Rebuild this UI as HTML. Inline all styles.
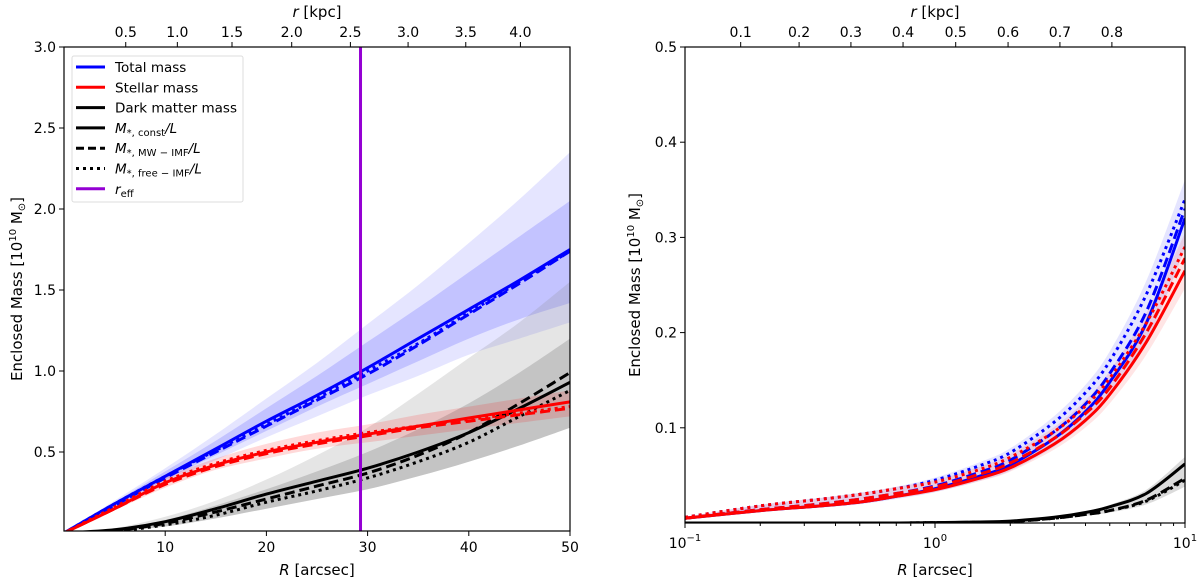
<!DOCTYPE html>
<html><head><meta charset="utf-8"><style>
body{margin:0;background:#fff;font-family:"Liberation Sans","DejaVu Sans",sans-serif}
svg text{font-family:"DejaVu Sans","Liberation Sans",sans-serif;fill:#000}
</style></head><body>
<svg id="c" width="1200" height="579" xmlns="http://www.w3.org/2000/svg"></svg>
<script>
// ---- Left panel data (R arcsec, mass 1e10 Msun)
const lR=[0,5,10,15,20,25,30,35,40,45,50];
const lTot=[0,0.18,0.35,0.52,0.69,0.85,1.02,1.2,1.38,1.56,1.75];
const lTotDash=[0,0.17,0.34,0.5,0.66,0.82,0.98,1.16,1.35,1.54,1.74];
const lTotDot=[0,0.18,0.35,0.51,0.67,0.83,1.0,1.17,1.36,1.55,1.74];
const lTotLo=[0,0.16,0.31,0.45,0.59,0.72,0.85,0.97,1.1,1.2,1.3];
const lTotHi=[0,0.2,0.4,0.61,0.83,1.05,1.29,1.53,1.79,2.06,2.35];
const lTotLo2=[0,0.17,0.33,0.48,0.63,0.78,0.92,1.06,1.2,1.32,1.42];
const lTotHi2=[0,0.19,0.38,0.57,0.77,0.97,1.18,1.39,1.61,1.83,2.05];
const lSt=[0,0.15,0.31,0.42,0.5,0.56,0.61,0.66,0.71,0.76,0.81];
const lStDash=[0,0.15,0.3,0.41,0.49,0.55,0.6,0.65,0.69,0.73,0.77];
const lStDot=[0,0.16,0.32,0.43,0.51,0.57,0.62,0.66,0.7,0.74,0.78];
const lStLo=[0,0.14,0.28,0.39,0.46,0.52,0.56,0.6,0.64,0.68,0.72];
const lStHi=[0,0.17,0.34,0.46,0.55,0.62,0.67,0.73,0.78,0.83,0.88];
const lDm=[0,0.02,0.07,0.15,0.24,0.32,0.4,0.5,0.62,0.77,0.93];
const lDmDash=[0,0.015,0.06,0.13,0.21,0.29,0.37,0.48,0.62,0.8,0.99];
const lDmDot=[0,0.012,0.05,0.11,0.19,0.26,0.34,0.44,0.56,0.72,0.88];
const lDmLo=[0,0.01,0.04,0.09,0.15,0.21,0.27,0.35,0.44,0.54,0.65];
const lDmHi=[0,0.03,0.1,0.2,0.33,0.48,0.65,0.86,1.08,1.3,1.55];
const lDmHi2=[0,0.025,0.08,0.17,0.27,0.38,0.5,0.64,0.8,0.99,1.2];
const reff=29.3;
const lXTicks=[10,20,30,40,50];
const lYTicks=[0.5,1.0,1.5,2.0,2.5,3.0];
const lTopLabels=["0.5","1.0","1.5","2.0","2.5","3.0","3.5","4.0"];
const lTopAt=[6.1,11.2,16.6,22.5,28.3,34.0,39.7,45.1];
// ---- Right panel data (log R)
const rR=[0.1,0.2,0.35,0.5,0.7,1,1.5,2,3,4,5,7,10];
const rSt=[0.005,0.013,0.018,0.022,0.028,0.035,0.047,0.058,0.083,0.108,0.135,0.19,0.265];
const rStDash=[0.005,0.014,0.02,0.025,0.031,0.038,0.051,0.063,0.089,0.115,0.142,0.2,0.278];
const rStDot=[0.006,0.018,0.025,0.03,0.036,0.043,0.056,0.069,0.096,0.123,0.152,0.21,0.29];
const rTot=[0.005,0.013,0.018,0.022,0.028,0.036,0.049,0.061,0.089,0.117,0.148,0.21,0.32];
const rTotDash=[0.005,0.014,0.02,0.025,0.031,0.039,0.053,0.066,0.096,0.125,0.157,0.222,0.33];
const rTotDot=[0.006,0.018,0.025,0.03,0.036,0.045,0.06,0.074,0.106,0.137,0.17,0.24,0.34];
const rDm=[0,0,0,0,0,0.0004,0.001,0.002,0.006,0.011,0.017,0.031,0.062];
const rDmDash=[0,0,0,0,0,0.0003,0.0008,0.0015,0.005,0.009,0.013,0.024,0.047];
const rDmDot=[0,0,0,0,0,0.0003,0.0008,0.0015,0.005,0.009,0.013,0.023,0.045];
const rXTicks=[0.1,1,10];
const rXLabels=["-1","0","1"];
const rYTicks=[0.1,0.2,0.3,0.4,0.5];
const rTopLabels=["0.1","0.2","0.3","0.4","0.5","0.6","0.7","0.8"];
const rTopAt=[0.167,0.286,0.461,0.745,1.21,1.96,3.16,5.1];

const NS="http://www.w3.org/2000/svg";
const svg=document.getElementById('c');
function mk(tag,attrs,parent){const e=document.createElementNS(NS,tag);for(const k in attrs)e.setAttribute(k,attrs[k]);(parent||svg).appendChild(e);return e;}
const L={x0:64,x1:570,y0:531,y1:47};
const lx=v=>L.x0+(v-0)/50*(L.x1-L.x0);
const ly=v=>533-v/0.5*81;
const Rr={x0:685,x1:1185,y0:523,y1:47};
const rx=v=>Rr.x0+(Math.log10(v)+1)/2*(Rr.x1-Rr.x0);
const ry=v=>Rr.y0-v/0.5*(Rr.y0-Rr.y1);

function P(xs,ys,fx,fy){return xs.map((x,i)=>[fx(x),fy(ys[i])]);}
function smooth(p,start){let d=(start?start:'M')+p[0][0].toFixed(1)+','+p[0][1].toFixed(1);
 for(let i=0;i<p.length-1;i++){const p0=p[Math.max(i-1,0)],p1=p[i],p2=p[i+1],p3=p[Math.min(i+2,p.length-1)];
  const c1=[p1[0]+(p2[0]-p0[0])/6,p1[1]+(p2[1]-p0[1])/6],c2=[p2[0]-(p3[0]-p1[0])/6,p2[1]-(p3[1]-p1[1])/6];
  d+=' C'+c1.map(v=>v.toFixed(1))+' '+c2.map(v=>v.toFixed(1))+' '+p2[0].toFixed(1)+','+p2[1].toFixed(1);}
 return d;}
function line(xs,ys,fx,fy,color,dash,name,g){
  const e=mk('path',{d:smooth(P(xs,ys,fx,fy)),fill:'none',stroke:color,'stroke-width':3,'stroke-dasharray':dash||'none','stroke-linejoin':'round'},g);
  
  
}
function band(xs,lo,hi,fx,fy,color,op,name,g){
  const top=P(xs,hi,fx,fy), bot=P(xs,lo,fx,fy).reverse();
  const d=smooth(top)+' '+smooth(bot,'L')+' Z';
  const e=mk('path',{d:d,fill:color,'fill-opacity':op,stroke:'none'},g);
  
  
}
function clip(id,b){const d=mk('clipPath',{id:id});mk('rect',{x:b.x0,y:b.y1,width:b.x1-b.x0,height:b.y0-b.y1},d);}
clip('cl',L);clip('cr',Rr);

const gl=mk('g',{'clip-path':'url(#cl)'});


band(lR,lTotLo,lTotHi,lx,ly,'#0000ff',0.1,'total-band-outer',gl);
band(lR,lTotLo2,lTotHi2,lx,ly,'#0000ff',0.15,'total-band-inner',gl);
band(lR,lDmLo,lDmHi,lx,ly,'#888',0.22,'dm-band-outer',gl);
band(lR,lDmLo,lDmHi2,lx,ly,'#777',0.3,'dm-band-inner',gl);
band(lR,lStLo,lStHi,lx,ly,'#ff0000',0.15,'stellar-band',gl);
line(lR,lDm,lx,ly,'#000','','dm-const',gl);
line(lR,lDmDash,lx,ly,'#000','10,5','dm-mw-imf',gl);
line(lR,lDmDot,lx,ly,'#000','3,4','dm-free-imf',gl);
line(lR,lTot,lx,ly,'#00f','','total-const',gl);
line(lR,lTotDash,lx,ly,'#00f','10,5','total-mw-imf',gl);
line(lR,lTotDot,lx,ly,'#00f','3,4','total-free-imf',gl);
line(lR,lSt,lx,ly,'#f00','','stellar-const',gl);
line(lR,lStDash,lx,ly,'#f00','10,5','stellar-mw-imf',gl);
line(lR,lStDot,lx,ly,'#f00','3,4','stellar-free-imf',gl);
const re=mk('line',{x1:lx(reff),x2:lx(reff),y1:L.y1,y2:L.y0,stroke:'#9400d3','stroke-width':3});



const gr=mk('g',{'clip-path':'url(#cr)'});


band(rR,rTot.map(v=>v*0.9),rTotDot.map(v=>v*1.06),rx,ry,'#0000ff',0.1,'total-band-right',gr);
band(rR,rSt.map(v=>v*0.93),rStDot.map(v=>v*1.05),rx,ry,'#ff0000',0.1,'stellar-band-right',gr);
band(rR,rDmDot.map(v=>v*0.85),rDm.map(v=>v*1.12),rx,ry,'#888',0.3,'dm-band-right',gr);
line(rR,rDm,rx,ry,'#000','','dm-const-right',gr);
line(rR,rDmDash,rx,ry,'#000','10,5','dm-mw-right',gr);
line(rR,rDmDot,rx,ry,'#000','3,4','dm-free-right',gr);
line(rR,rTot,rx,ry,'#00f','','total-const-right',gr);
line(rR,rTotDash,rx,ry,'#00f','10,5','total-mw-right',gr);
line(rR,rTotDot,rx,ry,'#00f','3,4','total-free-right',gr);
line(rR,rSt,rx,ry,'#f00','','stellar-const-right',gr);
line(rR,rStDash,rx,ry,'#f00','10,5','stellar-mw-right',gr);
line(rR,rStDot,rx,ry,'#f00','3,4','stellar-free-right',gr);

function frame(b,name){const e=mk('rect',{x:b.x0,y:b.y1,width:b.x1-b.x0,height:b.y0-b.y1,fill:'none',stroke:'#000','stroke-width':1.2});
}
frame(L,'left-axes-frame');frame(Rr,'right-axes-frame');
function text(x,y,s,anchor,size,name,extra){const e=mk('text',Object.assign({x:x,y:y,'text-anchor':anchor||'middle','font-size':size||14},extra||{}));e.innerHTML=s;
return e;}
lXTicks.forEach(v=>{mk('line',{x1:lx(v),x2:lx(v),y1:L.y0,y2:L.y0+5,stroke:'#000'});text(lx(v),L.y0+21,v,'middle',14,'x-tick-label');});
lYTicks.forEach(v=>{mk('line',{x1:L.x0-5,x2:L.x0,y1:ly(v),y2:ly(v),stroke:'#000'});text(L.x0-8,ly(v)+5,v.toFixed(1),'end',14,'y-tick-label');});
lTopLabels.forEach((s,i)=>{const x=lx(lTopAt[i]);mk('line',{x1:x,x2:x,y1:L.y1-5,y2:L.y1,stroke:'#000'});text(x,L.y1-10,s,'middle',14,'top-tick-label');});
rXTicks.forEach((v,i)=>{mk('line',{x1:rx(v),x2:rx(v),y1:Rr.y0,y2:Rr.y0+5,stroke:'#000'});text(rx(v),Rr.y0+25,'10<tspan dy="-7" font-size="10">'+rXLabels[i].replace('-','−')+'</tspan>','middle',14,'x-tick-label-right');});
for(let d=0.1;d<10;d*=10){for(let k=2;k<10;k++){const x=rx(d*k);mk('line',{x1:x,x2:x,y1:Rr.y0,y2:Rr.y0+3,stroke:'#000'});}}
rYTicks.forEach(v=>{mk('line',{x1:Rr.x0-5,x2:Rr.x0,y1:ry(v),y2:ry(v),stroke:'#000'});text(Rr.x0-8,ry(v)+5,v.toFixed(1),'end',14,'y-tick-label-right');});
rTopLabels.forEach((s,i)=>{const x=rx(rTopAt[i]);mk('line',{x1:x,x2:x,y1:Rr.y1-5,y2:Rr.y1,stroke:'#000'});text(x,Rr.y1-10,s,'middle',14,'top-tick-label-right');});
text(317,575,'<tspan font-style="italic">R</tspan> [arcsec]','middle',15,'x-axis-title');
text(935,575,'<tspan font-style="italic">R</tspan> [arcsec]','middle',15,'x-axis-title-right');
text(317,17,'<tspan font-style="italic">r</tspan> [kpc]','middle',15,'top-axis-title');
text(935,17,'<tspan font-style="italic">r</tspan> [kpc]','middle',15,'top-axis-title-right');
text(0,0,'Enclosed Mass [10<tspan dy="-6" font-size="10">10</tspan><tspan dy="6"> M</tspan><tspan dy="3" font-size="10">⊙</tspan><tspan dy="-3">]</tspan>','middle',15,'y-axis-title',{transform:'translate(22,289) rotate(-90)'});
text(0,0,'Enclosed Mass [10<tspan dy="-6" font-size="10">10</tspan><tspan dy="6"> M</tspan><tspan dy="3" font-size="10">⊙</tspan><tspan dy="-3">]</tspan>','middle',15,'y-axis-title-right',{transform:'translate(640,285) rotate(-90)'});
const lg=mk('g',{});


mk('rect',{x:72,y:56,width:171,height:146,fill:'#fff',stroke:'#ddd',rx:2},lg);
const entries=[['#00f','','Total mass'],['#f00','','Stellar mass'],['#000','','Dark matter mass'],
['#000','','<tspan font-style="italic">M</tspan><tspan font-size="10" dy="3">*, const</tspan><tspan dy="-3" font-style="italic">/L</tspan>'],
['#000','8,4','<tspan font-style="italic">M</tspan><tspan font-size="10" dy="3">*, MW − IMF</tspan><tspan dy="-3" font-style="italic">/L</tspan>'],
['#000','3,4','<tspan font-style="italic">M</tspan><tspan font-size="10" dy="3">*, free − IMF</tspan><tspan dy="-3" font-style="italic">/L</tspan>'],
['#9400d3','','<tspan font-style="italic">r</tspan><tspan font-size="10" dy="3">eff</tspan>']];
entries.forEach((e,i)=>{const y=67+i*20.3;
 mk('line',{x1:76,x2:105,y1:y,y2:y,stroke:e[0],'stroke-width':3,'stroke-dasharray':e[1]||'none'},lg);
 const t=text(115,y+5,e[2],'start',13.5,'legend-entry');lg.appendChild(t);});
</script>
</body></html>
